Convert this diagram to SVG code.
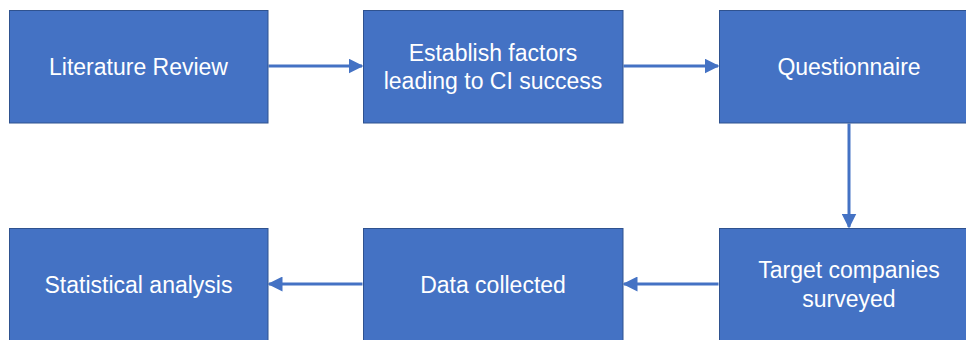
<svg xmlns="http://www.w3.org/2000/svg" width="966" height="340" viewBox="0 0 966 340">
  <style>
    .box { fill: #4472C4; stroke: #2F528F; stroke-width: 1; }
    .lbl { fill: #FFFFFF; font-family: "Liberation Sans", Arial, sans-serif; font-size: 23px; text-anchor: middle; }
    .flow { stroke: #4472C4; stroke-width: 3; fill: none; marker-end: url(#head); }
  </style>
  <defs>
    <marker id="head" markerWidth="5" markerHeight="5" refX="4.5" refY="2.5" orient="auto" markerUnits="strokeWidth">
      <path d="M0,0 L5,2.5 L0,5 Z" fill="#4472C4"/>
    </marker>
  </defs>
  <rect width="966" height="340" fill="#FFFFFF"/>

  <g id="connectors">
    <line class="flow" x1="268.5" y1="66" x2="362" y2="66"/>
    <line class="flow" x1="623.5" y1="66" x2="718" y2="66"/>
    <line class="flow" x1="849" y1="123.5" x2="849" y2="227"/>
    <line class="flow" x1="718.5" y1="284" x2="624" y2="284"/>
    <line class="flow" x1="362.5" y1="284" x2="269" y2="284"/>
  </g>

  <g id="literature-review">
    <rect class="box" x="9.5" y="10.5" width="258.5" height="112.5"/>
    <text class="lbl" x="138.5" y="74.5">Literature Review</text>
  </g>
  <g id="establish-factors">
    <rect class="box" x="363.5" y="10.5" width="259.5" height="112.5"/>
    <text class="lbl" x="493" y="60.5">Establish factors</text>
    <text class="lbl" x="493" y="89">leading to CI success</text>
  </g>
  <g id="questionnaire">
    <rect class="box" x="719.5" y="10.5" width="259" height="112.5"/>
    <text class="lbl" x="849" y="74.5">Questionnaire</text>
  </g>
  <g id="target-companies">
    <rect class="box" x="719.5" y="228.5" width="259" height="113"/>
    <text class="lbl" x="849" y="278">Target companies</text>
    <text class="lbl" x="849" y="306.5">surveyed</text>
  </g>
  <g id="data-collected">
    <rect class="box" x="363.5" y="228.5" width="259.5" height="113"/>
    <text class="lbl" x="493" y="292.5">Data collected</text>
  </g>
  <g id="statistical-analysis">
    <rect class="box" x="9.5" y="228.5" width="258.5" height="113"/>
    <text class="lbl" x="138.5" y="292.5">Statistical analysis</text>
  </g>
</svg>
